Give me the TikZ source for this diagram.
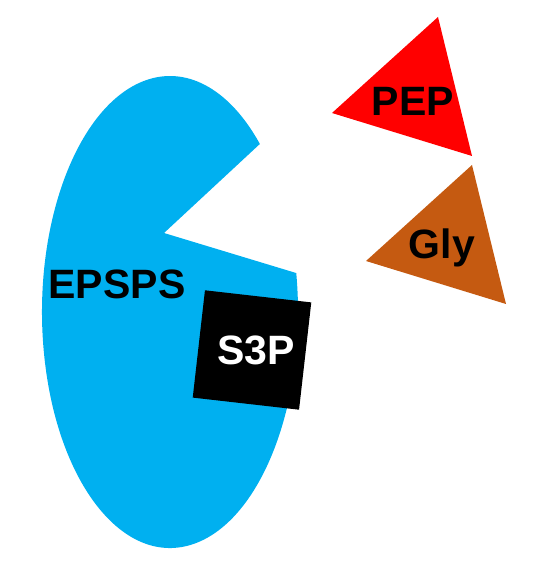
\documentclass[tikz,border=0pt]{standalone}
\usepackage{fontspec}
\setmainfont{Liberation Sans}
\definecolor{epsblue}{HTML}{00B0F0}
\definecolor{glybrown}{HTML}{C55A11}
\tikzset{lbl/.style={font=\fontsize{41}{41}\selectfont\bfseries, inner sep=0pt}}
\begin{document}
\begin{tikzpicture}[x=1pt, y=-1pt, line join=miter]
			\useasboundingbox (0,0) rectangle (534,569);
			\path (170,312) coordinate (O)
			(164,233) coordinate (M)
			(438,17) coordinate (P1)
			(332,113) coordinate (P2)
			(472,156) coordinate (P3);
			
			% enzyme with its pocket
			\fill[epsblue] (M) -- ([shift={(-9.5:128 and 236)}]O)
				arc[start angle=-9.5, end angle=314.6, x radius=128, y radius=236] -- cycle;
			
			% substrates
			\fill[red] (P1) -- (P2) -- (P3) -- cycle;
			\fill[glybrown] ([shift={(34,148)}]P1) -- ([shift={(34,148)}]P2) -- ([shift={(34,148)}]P3) -- cycle;
			
			\node[fill=black, minimum width=107pt, minimum height=108pt, rotate=-6.5] (box) at (252,350) {};
			
			\foreach \n/\t/\c/\x/\y in {epsps/EPSPS/black/117/284, s3p/S3P/white/256/350, pep/PEP/black/413/101, gly/Gly/black/442/248} {
				\node[lbl, text=\c] (\n) at (\x,\y) {\t};
			}
		\end{tikzpicture}
\end{document}
